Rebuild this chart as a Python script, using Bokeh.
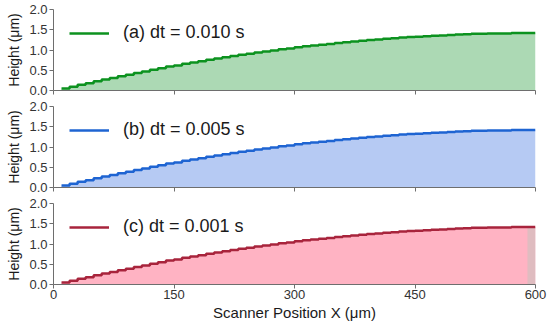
from bokeh.plotting import figure
from bokeh.layouts import column
from bokeh.models import Legend, LegendItem, FixedTicker, Range1d, CustomLabelingPolicy
from bokeh.embed import file_html
from bokeh.resources import INLINE

# scanner position of each step edge (um)
x_um = list(range(10, 601, 10))
# height profile (um), one value per step
height_a = [0.05, 0.09, 0.14, 0.18, 0.23, 0.27, 0.31, 0.35, 0.39, 0.43,
            0.47, 0.51, 0.55, 0.59, 0.62, 0.66, 0.69, 0.72, 0.76, 0.79,
            0.82, 0.85, 0.88, 0.91, 0.94, 0.96, 0.99, 1.02, 1.04, 1.07,
            1.09, 1.11, 1.13, 1.15, 1.17, 1.19, 1.21, 1.23, 1.25, 1.26,
            1.28, 1.29, 1.31, 1.32, 1.33, 1.34, 1.35, 1.36, 1.37, 1.38,
            1.39, 1.40, 1.40, 1.41, 1.41, 1.41, 1.42, 1.42, 1.42, 1.42]
height_b = list(height_a)
height_c = list(height_a)
series = [height_a, height_b, height_c]
labels = ["(a) dt = 0.010 s", "(b) dt = 0.005 s", "(c) dt = 0.001 s"]
line_colors = ["#0c921f", "#1e64d2", "#a8243c"]
fill_colors = ["#acd9b4", "#b6caf3", "#ffb3c3"]
x_ticks = [0, 150, 300, 450, 600]
y_ticks = [0, 0.5, 1.0, 1.5, 2.0]

FONT = "Liberation Sans"
AXIS_COLOR = "#6e6e6e"
x_range = Range1d(0, 600)

heights = [98, 97, 135]
tops = [9, 8, 8]
bottoms = [7, 7, 46]

hide_labels = CustomLabelingPolicy(code="""
const ids = [...indices]
for (const i of ids) indices.unset(i)
return indices
""")

figs = []
for i in range(3):
    last = i == 2
    p = figure(width=550, height=heights[i], x_range=x_range, y_range=Range1d(0, 2),
               output_backend="svg", toolbar_location=None,
               min_border_left=53, min_border_right=15,
               min_border_top=tops[i], min_border_bottom=bottoms[i])
    p.grid.visible = False
    p.outline_line_color = None
    p.background_fill_color = "white"
    p.border_fill_color = "white"

    p.varea_step(x=x_um, y1=[0] * len(x_um), y2=series[i], step_mode="after",
                 fill_color=fill_colors[i], fill_alpha=1.0)
    if last:
        p.varea_step(x=x_um[-2:], y1=[0, 0], y2=series[i][-2:], step_mode="after",
                     fill_color="#dfbcc0", fill_alpha=1.0)
    r = p.step(x=x_um, y=series[i], mode="after", line_color=line_colors[i], line_width=2.5)

    leg = Legend(items=[LegendItem(label=labels[i], renderers=[r])],
                 location=(16, 47), margin=0, padding=0,
                 glyph_width=40, glyph_height=20, label_standoff=14,
                 label_text_font=FONT, label_text_font_size="18px",
                 label_text_color="#1a1a1a",
                 border_line_color=None, background_fill_alpha=0)
    p.add_layout(leg)

    for ax in (p.xaxis[0], p.yaxis[0]):
        ax.axis_line_color = AXIS_COLOR
        ax.major_tick_line_color = AXIS_COLOR
        ax.minor_tick_line_color = None
        ax.major_tick_in = 0
        ax.major_tick_out = 4
        ax.major_label_text_font = FONT
        ax.major_label_text_font_size = "13px"
        ax.major_label_text_color = "#333333"
        ax.axis_label_text_font = FONT
        ax.axis_label_text_font_style = "normal"
        ax.axis_label_text_color = "#1a1a1a"
        ax.major_label_standoff = 2

    p.yaxis.ticker = FixedTicker(ticks=y_ticks)
    p.yaxis.major_label_overrides = {0: "0.0", 0.5: "0.5", 1: "1.0", 1.5: "1.5", 2: "2.0"}
    p.yaxis.axis_label = "Height (μm)"
    p.yaxis.axis_label_text_font_size = "14px"
    p.yaxis.axis_label_standoff = 4

    p.xaxis.ticker = FixedTicker(ticks=x_ticks)
    if last:
        p.xaxis.axis_label = "Scanner Position X (μm)"
        p.xaxis.axis_label_text_font_size = "15px"
        p.xaxis.axis_label_standoff = 2
        p.xaxis.major_label_standoff = 1
    else:
        p.xaxis.major_label_policy = hide_labels
        p.xaxis.major_label_text_font_size = "1px"
        p.xaxis.major_label_standoff = 0
    figs.append(p)

layout = column(*figs, spacing=0)
open("out.html", "w").write(file_html(layout, INLINE))
